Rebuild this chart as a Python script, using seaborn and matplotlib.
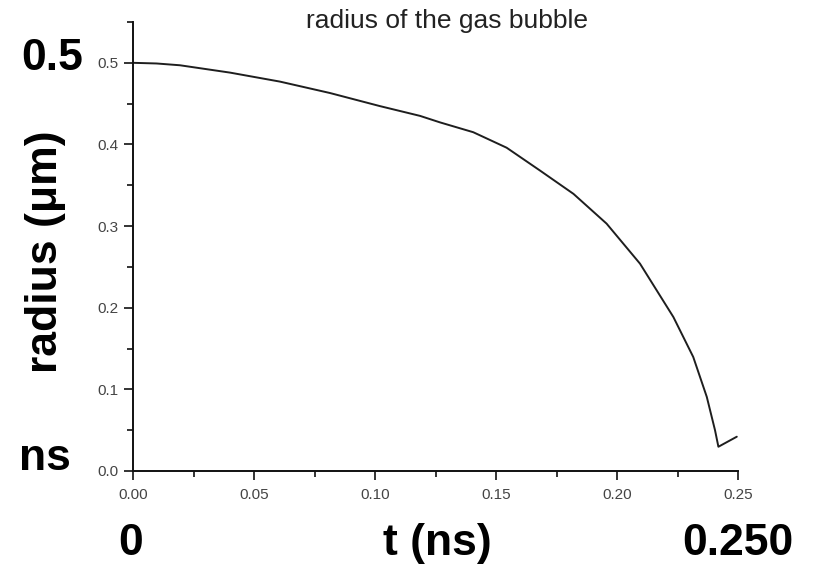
import matplotlib
matplotlib.use("Agg")
import matplotlib.pyplot as plt
import seaborn as sns
import pandas as pd
from matplotlib.ticker import MultipleLocator, FormatStrFormatter

# bubble radius over time
time_ns = [0.0, 0.0097, 0.0194, 0.0401, 0.0607, 0.0814, 0.102, 0.1186, 0.1269,
           0.1406, 0.1544, 0.1682, 0.1820, 0.1957, 0.2095, 0.2233, 0.2315,
           0.2371, 0.2405, 0.2419, 0.2495]
radius_um = [0.500, 0.4992, 0.497, 0.488, 0.477, 0.463, 0.447, 0.435, 0.427,
             0.415, 0.396, 0.368, 0.3395, 0.303, 0.254, 0.1886, 0.1397,
             0.0908, 0.050, 0.0297, 0.042]

x_ticks = [0.00, 0.05, 0.10, 0.15, 0.20, 0.25]
y_ticks = [0.0, 0.1, 0.2, 0.3, 0.4, 0.5]

sns.set_style("ticks")
plt.rcParams["font.family"] = ["Liberation Sans", "DejaVu Sans"]

W, H = 815, 566
fig = plt.figure(figsize=(W / 100, H / 100), dpi=100)
ax = fig.add_axes([133 / W, 1 - 471 / H, (738 - 133) / W, (471 - 22) / H])

df = pd.DataFrame({"t": time_ns, "r": radius_um})
sns.lineplot(data=df, x="t", y="r", ax=ax, color="#1e1e1e", linewidth=1.4, sort=False)

ax.set_xlim(0, 0.25)
ax.set_ylim(0, 0.55)
ax.set_xticks(x_ticks)
ax.set_yticks(y_ticks)
ax.xaxis.set_minor_locator(MultipleLocator(0.025))
ax.yaxis.set_minor_locator(MultipleLocator(0.05))
ax.xaxis.set_major_formatter(FormatStrFormatter("%.2f"))
ax.yaxis.set_major_formatter(FormatStrFormatter("%.1f"))
ax.set_xlabel("")
ax.set_ylabel("")

for side in ("top", "right"):
    ax.spines[side].set_visible(False)
for side in ("left", "bottom"):
    ax.spines[side].set_linewidth(1.4)
    ax.spines[side].set_color("#111111")

ax.tick_params(axis="both", which="major", direction="out", length=6.5, width=1.2,
               color="#111111", labelsize=11, labelcolor="#444444", pad=4)
ax.tick_params(axis="both", which="minor", direction="out", length=4, width=1.2,
               color="#111111")
ax.tick_params(axis="x", which="major", pad=6)

# title and oversized annotations
fig.text(447 / W, 1 - 21 / H, "radius of the gas bubble", ha="center", va="center",
         fontsize=19, color="#222222")

big = dict(fontsize=32, fontweight="bold", color="black")
fig.text(52 / W, 1 - 58 / H, "0.5", ha="center", va="center", **big)
fig.text(46 / W, 1 - 252 / H, "radius (\u03bcm)", ha="center", va="center",
         rotation=90, **big)
fig.text(45 / W, 1 - 470 / H, "ns", ha="center", va="baseline", **big)
fig.text(131 / W, 1 - 555 / H, "0", ha="center", va="baseline", **big)
fig.text(437 / W, 1 - 555 / H, "t (ns)", ha="center", va="baseline", **big)
fig.text(738 / W, 1 - 555 / H, "0.250", ha="center", va="baseline", **big)

fig.savefig("out.png", dpi=100, facecolor="white")
